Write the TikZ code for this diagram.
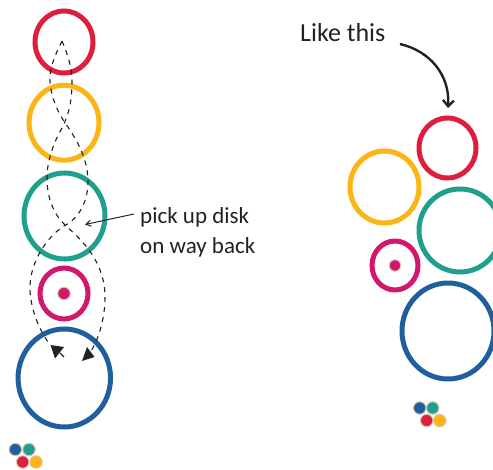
\documentclass[tikz,border=0pt]{standalone}
\usepackage{fontspec}
\setmainfont{Carlito}
\usetikzlibrary{shapes.geometric,arrows.meta}
\definecolor{cred}{HTML}{DC1F3C}
\definecolor{cyel}{HTML}{FDB515}
\definecolor{cteal}{HTML}{1FA08C}
\definecolor{cpink}{HTML}{D2186C}
\definecolor{cblue}{HTML}{1F5F9E}
\definecolor{halo}{HTML}{D8C8B0}
\definecolor{ink}{HTML}{222222}
\tikzset{
  disk/.style n args={3}{ellipse,draw=#1,line width=5pt,inner sep=0pt,outer sep=0pt,minimum width=#2pt-4pt,minimum height=#3pt-4pt},
  dot/.style={circle,fill=#1,draw=halo,line width=1pt,inner sep=0pt,minimum size=12.5pt},
  trail/.style={draw=ink,line width=1.1pt,dash pattern=on 5pt off 5pt},
  hand/.style={text=ink,font=\fontsize{23}{30}\selectfont,align=left,inner sep=0pt},
  pointer/.style={draw=ink,line width=1pt,-{Straight Barb[length=5pt,width=6pt]}},
  bigpointer/.style={draw=ink,line width=2.4pt,-{Straight Barb[length=6pt,width=11pt]}}
}
\begin{document}
\begin{tikzpicture}[x=1pt,y=-1pt]
\useasboundingbox (0,0) rectangle (493,470);
\begin{scope}
\clip (0,0) rectangle (493,470);
% left stack
\node[disk={cred}{62}{66}] (r1) at (64,42) {};
\node[disk={cyel}{74}{79}] (y1) at (64,122.7) {};
\node[disk={cteal}{85}{90}] (t1) at (64.5,216) {};
\node[disk={cpink}{52}{55}] (p1) at (64,293.5) {};
\node[disk={cblue}{96.5}{102}] (b1) at (64.3,378) {};
\node[dot=cpink] (d1) at (64,293.5) {};
% right group
\node[disk={cred}{61}{64}] (r2) at (447.5,148) {};
\node[disk={cyel}{73}{76}] (y2) at (384.5,187) {};
\node[disk={cteal}{86}{87}] (t2) at (460,230.5) {};
\node[disk={cpink}{50}{53}] (p2) at (395,265.5) {};
\node[disk={cblue}{96}{100}] (b2) at (448,331) {};
\node[dot=cpink,minimum size=11.5pt] (d2) at (395,265.5) {};
\end{scope}
% small clusters
\foreach \n/\c/\x/\y in {a/cblue/15.3/449.5,b/cteal/29/449.5,c/cred/22.7/462,d/cyel/36/462,
  e/cblue/419.7/408,f/cteal/432.7/408,g/cred/426.7/420.5,h/cyel/439.7/420.5}
  \node[dot=\c,minimum size=12.5pt] (s\n) at (\x,\y) {};
% trails
\coordinate (apex) at (62,41);
\coordinate (tipL) at (50.5,345);
\coordinate (tipR) at (82,361);
\coordinate (stub) at (64,357);
\coordinate (endL) at (48,342);
\draw[trail] (apex) .. controls (54,57) and (49,70) .. (50,82)
  .. controls (52,105) and (63,120) .. (70,130)
  .. controls (80,146) and (88,162) .. (88,182)
  .. controls (88,200) and (80,218) .. (64,226)
  .. controls (48,236) and (29,262) .. (30,290)
  .. controls (31,312) and (40,330) .. (endL);
\draw[trail] (apex) .. controls (68,55) and (72,68) .. (72,82)
  .. controls (72,100) and (69,115) .. (62,128)
  .. controls (54,142) and (47,160) .. (47,178)
  .. controls (47,200) and (55,216) .. (66,226)
  .. controls (82,240) and (105,262) .. (105,297)
  .. controls (105,320) and (98,340) .. (90.5,352);
\draw[ink,line width=1.1pt] (stub) -- (60,353);
\fill[ink] (tipL) -- (64,347) -- (55,358.5) -- cycle;
\fill[ink] (tipR) -- (87,347) -- (94.5,357) -- cycle;
% labels
\node[hand,anchor=north west] (lab) at (140,207) {pick up disk\\on way back};
\coordinate (labS) at (134,214);
\coordinate (labE) at (85,224.5);
\draw[pointer] (labS) -- (labE);
\node[hand,anchor=north west,font=\fontsize{26}{30}\selectfont] (like) at (300,23) {Like this};
\coordinate (likeS) at (400,44);
\coordinate (likeE) at (448,108);
\draw[bigpointer] (likeS) .. controls (430,51) and (450,75) .. (likeE);
\end{tikzpicture}
\end{document}
